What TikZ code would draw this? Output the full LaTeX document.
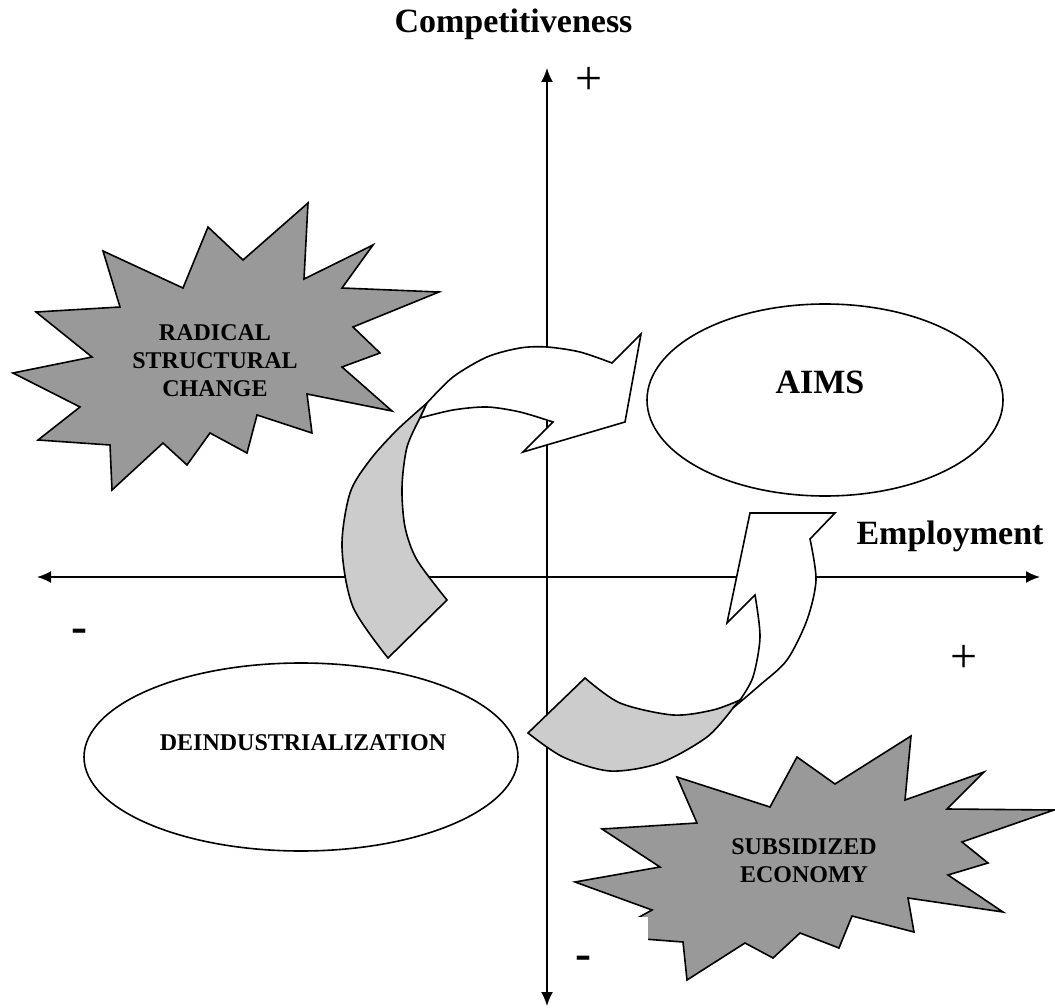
\documentclass[tikz,border=0pt]{standalone}
\usepackage{fontspec}
\setmainfont{Liberation Serif}
\usetikzlibrary{shapes.geometric,arrows.meta}
\definecolor{stargray}{RGB}{153,153,153}
\definecolor{ribbongray}{RGB}{204,204,204}
\begin{document}
\begin{tikzpicture}[x=1pt,y=-1pt,
  outline/.style={draw=black,line width=1.6pt},
  starshape/.style={outline,fill=stargray},
  ribbonback/.style={outline,fill=ribbongray},
  ribbonfront/.style={outline,fill=white},
  axis/.style={line width=1.8pt,{Latex[length=14pt,width=12pt]}-{Latex[length=14pt,width=12pt]}},
  ellipsebox/.style={ellipse,draw,line width=1.6pt,fill=white,inner sep=0pt},
  big/.style={font=\bfseries\fontsize{34}{40}\selectfont},
  small/.style={font=\bfseries\fontsize{24}{28}\selectfont,align=center},
  sign/.style={font=\fontsize{48}{48}\selectfont},
  minus/.style={font=\bfseries\fontsize{48}{48}\selectfont}]
\useasboundingbox (0,0) rectangle (1055,1008);
\fill[white] (0,0) rectangle (1055,1008);

% axes
\coordinate (vtop) at (547,68);
\coordinate (vbot) at (547,1006);
\coordinate (hleft) at (37,577);
\coordinate (hright) at (1040,577);
\draw[axis] (hleft) -- (hright);
\draw[axis] (vbot) -- (vtop);

% starburst 1
\draw[starshape] (13,373) -- (92,357) -- (36,312) -- (120,307) -- (103,251) -- (183,288) -- (208,227) -- (243,260) -- (308,203) -- (304,279) -- (373,245) -- (342,288) -- (439,292) -- (353,327) -- (380,353) -- (342,367) -- (392,411) -- (307,394) -- (312,433) -- (257,415) -- (247,453) -- (210,433) -- (187,465) -- (163,443) -- (112,490) -- (110,445) -- (38,440) -- (80,407) -- cycle;
\node[small] (radical) at (215,361) {RADICAL\\STRUCTURAL\\CHANGE};

% starburst 2
\draw[starshape] (575,882) -- (660,867) -- (602,829) -- (697,823) -- (677,777) -- (770,807) -- (797,757) -- (835,784) -- (911,736) -- (905,800) -- (984,772) -- (947,809) -- (1054,810) -- (962,842) -- (988,863) -- (948,875) -- (1003,912) -- (908,898) -- (914,932) -- (852,916) -- (839,948) -- (800,933) -- (773,958) -- (745,943) -- (687,980) -- (683,942) -- (605,936) -- (652,910) -- cycle;
\fill[white] (595,917) rectangle (648,946);
\node[small] (subsid) at (804,861) {SUBSIDIZED\\ECONOMY};

% ellipses
\node[ellipsebox, minimum width=356pt, minimum height=192pt] (aims) at (825,400) {};
\node[big] (aimslabel) at (820,382) {AIMS};
\node[ellipsebox, minimum width=434pt, minimum height=188pt] (deind) at (301,757) {};
\node[font=\bfseries\fontsize{24}{28}\selectfont] (deindlabel) at (303,743) {DEINDUSTRIALIZATION};

% upper curved arrow
\draw[ribbonback] plot[smooth] coordinates {(388,658) (353,607) (342,547) (350,493) (370,460) (397,430) (427,403)} -- plot[smooth] coordinates {(420,418) (407,447) (402,487) (405,527) (417,560) (447,600)} -- cycle;
\draw[ribbonfront] plot[smooth] coordinates {(427,403) (453,377) (487,357) (520,348) (547,347) (580,352) (612,363)} -- (641,334) -- (625,422) -- (523,452) -- plot[smooth] coordinates {(553,422) (520,412) (487,407) (453,410) (420,418)} -- cycle;

% lower curved arrow
\draw[ribbonback] plot[smooth] coordinates {(528,733) (563,757) (610,771) (660,763) (707,737) (733,708)} -- plot[smooth] coordinates {(740,700) (713,710) (673,715) (620,703) (585,678)} -- cycle;
\draw[ribbonfront] plot[smooth] coordinates {(733,708) (760,685) (787,660) (807,620) (816,580) (810,539)} -- (835,513) -- (750,513) -- (727,623) -- plot[smooth] coordinates {(755,595) (760,637) (753,677) (740,700)} -- cycle;

% labels
\node[big, anchor=base east] (comp) at (636,33) {Competitiveness};
\node[big, anchor=base] (emp) at (950,544) {Employment};
\node[sign] (plustop) at (589,81) {+};
\node[sign] (plusright) at (964,659) {+};
\node[minus] (minusleft) at (79,636) {-};
\node[minus] (minusbot) at (583,963) {-};
\end{tikzpicture}
\end{document}
